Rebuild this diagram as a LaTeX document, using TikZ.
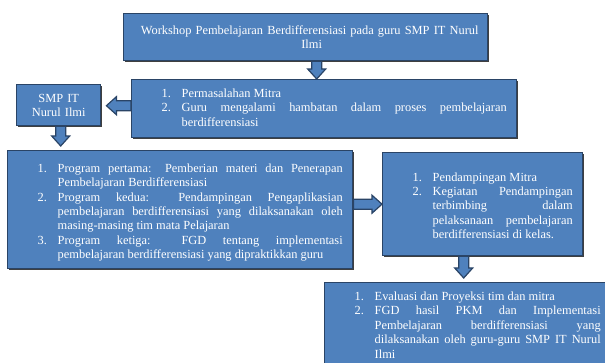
\documentclass[tikz,border=0pt]{standalone}
\usepackage{fontspec}
\setmainfont{Liberation Serif}
\usepackage{tikz}
\usetikzlibrary{calc}
\usetikzlibrary{shadows}
\definecolor{boxfill}{HTML}{4F81BD}
\definecolor{boxline}{HTML}{2A4466}
\hyphenpenalty=10000
\exhyphenpenalty=10000
\tolerance=10000
\newcommand{\litem}[2]{\par\leftskip=20pt\hangindent=20pt\hangafter=1\noindent\makebox[20pt][l]{#1}#2\par}
\newcommand{\blockarrow}[2]{%
	\coordinate (bs) at #1;
	\coordinate (bt) at #2;
	\coordinate (bh) at ($(bt)!10pt!(bs)$);
	\draw[barrow] ($(bs)!5pt!90:(bt)$) -- ($(bh)!5pt!90:(bt)$) -- ($(bh)!9pt!90:(bt)$) -- (bt)
		-- ($(bh)!9pt!-90:(bt)$) -- ($(bh)!5pt!-90:(bt)$) -- ($(bs)!5pt!-90:(bt)$) -- cycle;}

\begin{document}
\begin{tikzpicture}[x=1pt,y=-1pt,
		box/.style={draw=boxline,line width=1.4pt,fill=boxfill,text=white,inner xsep=10pt,inner ysep=0pt,anchor=north west,
			font=\fontsize{12.4}{14.4}\selectfont,drop shadow={shadow xshift=1.2pt,shadow yshift=-1.2pt,fill=black!75,opacity=1}},
		lst/.style={box,align=justify},
		barrow/.style={draw=boxline,line width=1.2pt,fill=boxfill}]
	\useasboundingbox (0,0) rectangle (605,363);
	\path (123,13) node(ws)[box,inner xsep=3pt,minimum width=364pt,minimum height=47pt,text width=358pt,align=center]
		{\hspace*{8pt}Workshop Pembelajaran Berdifferensiasi pada guru SMP IT Nurul\\\hspace*{12pt}Ilmi};
	\path (131,79) node(prob)[lst,minimum height=58pt,text width=365pt]
		{\litem{1.}{Permasalahan Mitra}\litem{2.}{Guru mengalami hambatan dalam proses pembelajaran\linebreak berdifferensiasi}\vspace{8pt}};
	\path (16,84) node(smp)[box,inner xsep=12pt,minimum height=41pt,text width=60pt,align=center]{SMP IT Nurul Ilmi};
	\path (7,150) node(prog)[lst,minimum height=118pt,text width=325pt]
		{\litem{1.}{Program pertama: Pemberian materi dan Penerapan\linebreak Pembelajaran Berdifferensiasi}%
		\litem{2.}{Program kedua: Pendampingan Pengaplikasian\linebreak pembelajaran berdifferensiasi yang dilaksanakan oleh\linebreak masing-masing tim mata Pelajaran}%
		\litem{3.}{Program ketiga: FGD tentang implementasi\linebreak pembelajaran berdifferensiasi yang dipraktikkan guru}};
	\path (382,152) node(pend)[lst,minimum height=103pt,text width=180pt]
		{\litem{1.}{Pendampingan Mitra}\litem{2.}{Kegiatan Pendampingan\linebreak terbimbing dalam\linebreak pelaksanaan pembelajaran\linebreak berdifferensiasi di kelas.}\vspace{3pt}};
	\path (324,282) node(eval)[lst,minimum height=86pt,text width=266pt]
		{\litem{1.}{Evaluasi dan Proyeksi tim dan mitra}\litem{2.}{FGD hasil PKM dan Implementasi\linebreak Pembelajaran berdifferensiasi yang\linebreak dilaksanakan oleh guru-guru SMP IT Nurul\linebreak Ilmi}\vspace{7pt}};
	\coordinate (a1) at ($(ws.south)+(11,0)$);
	\coordinate (a2) at ($(prob.west)+(0,-3)$);
	\coordinate (a3) at ($(smp.south)+(2,0)$);
	\coordinate (a5) at ($(pend.south)+(-19,0)$);
	\blockarrow{(a1)}{(a1 |- prob.north)}
	\blockarrow{(a2)}{($(a2 -| smp.east)+(5,0)$)}
	\blockarrow{(a3)}{($(a3 |- prog.north)+(0,-4)$)}
	\blockarrow{(prog.east |- pend.west)}{(pend.west)}
	\blockarrow{(a5)}{($(a5 |- eval.north)+(0,-4)$)}
\end{tikzpicture}
\end{document}
